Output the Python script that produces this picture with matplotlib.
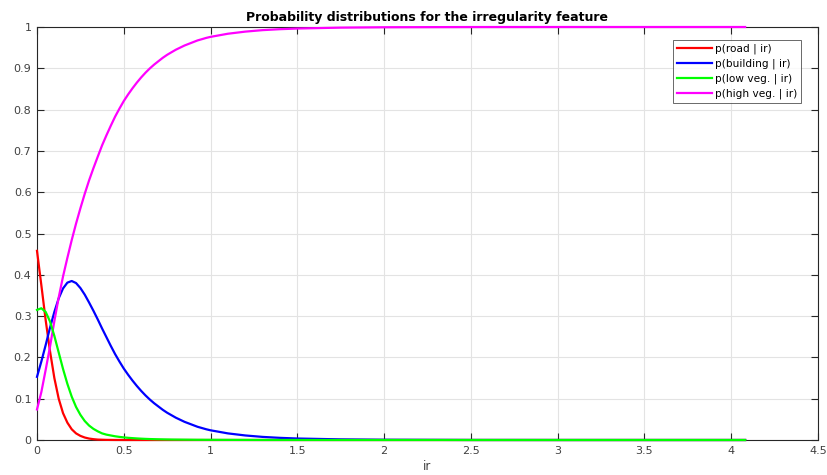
import numpy as np
import matplotlib
matplotlib.use("Agg")
import matplotlib.pyplot as plt

# sample points along the irregularity axis
ir = [0.0, 0.025, 0.05, 0.075, 0.1, 0.125, 0.15, 0.175, 0.2, 0.225, 0.25,
      0.275, 0.3, 0.325, 0.35, 0.375, 0.4, 0.425, 0.45, 0.475, 0.5, 0.525,
      0.55, 0.575, 0.6, 0.625, 0.65, 0.675, 0.7, 0.725, 0.75, 0.775, 0.8,
      0.825, 0.85, 0.875, 0.9, 0.925, 0.95, 0.975, 1.0,
      1.1, 1.2, 1.3, 1.4, 1.5, 1.75, 2.0, 2.5, 3.0, 3.5, 4.08]

p_road = [0.458, 0.375, 0.29, 0.215, 0.15, 0.10, 0.065, 0.042, 0.026, 0.016,
          0.010, 0.006, 0.0035, 0.002, 0.001, 0.0006, 0.0003, 0.0002, 0.0001,
          0.0001, 0, 0, 0, 0, 0, 0, 0, 0, 0, 0, 0, 0, 0, 0, 0, 0, 0, 0, 0, 0, 0,
          0, 0, 0, 0, 0, 0, 0, 0, 0, 0, 0]

p_building = [0.153, 0.19, 0.23, 0.272, 0.31, 0.343, 0.367, 0.381, 0.385,
              0.38, 0.368, 0.352, 0.333, 0.313, 0.292, 0.27, 0.249, 0.228,
              0.208, 0.19, 0.173, 0.158, 0.144, 0.131, 0.119, 0.108, 0.098,
              0.089, 0.081, 0.073, 0.066, 0.06, 0.054, 0.049, 0.044, 0.040,
              0.036, 0.032, 0.029, 0.026, 0.0235,
              0.016, 0.011, 0.0075, 0.0052, 0.0036, 0.0015, 0.0006, 0.0001,
              0.00002, 0, 0]

p_lowveg = [0.315, 0.319, 0.31, 0.287, 0.252, 0.212, 0.172, 0.136, 0.105,
            0.08, 0.061, 0.046, 0.035, 0.027, 0.021, 0.016, 0.013, 0.011,
            0.009, 0.0075, 0.0063, 0.0053, 0.0045, 0.0038, 0.0032, 0.0027,
            0.0023, 0.002, 0.0017, 0.0015, 0.0013, 0.0011, 0.001, 0.0009,
            0.0008, 0.0007, 0.0006, 0.0005, 0.0005, 0.0004, 0.0004,
            0.0003, 0.0002, 0.0001, 0.0001, 0.0001, 0, 0, 0, 0, 0, 0]

p_highveg = [0.074, 0.116, 0.17, 0.226, 0.288, 0.345, 0.396, 0.441, 0.484,
             0.524, 0.561, 0.596, 0.6285, 0.658, 0.686, 0.7134, 0.7377,
             0.7608, 0.7829, 0.8024, 0.8207, 0.8367, 0.8515, 0.8652, 0.8778,
             0.8893, 0.8997, 0.909, 0.9173, 0.9255, 0.9327, 0.9389, 0.945,
             0.9501, 0.9552, 0.9593, 0.9634, 0.9675, 0.9705, 0.9736, 0.9761,
             0.9837, 0.9888, 0.9924, 0.9947, 0.9963, 0.9985, 0.9994, 0.9999,
             1.0, 1.0, 1.0]

labels = ['p(road | ir)', 'p(building | ir)', 'p(low veg. | ir)', 'p(high veg. | ir)']
colors = ['#ff0000', '#0000ff', '#00ff00', '#ff00ff']
# green sits on top where the curves run along zero
zorders = [3, 3.1, 3.3, 3.2]

fig = plt.figure(figsize=(8.27, 4.75), dpi=100)
ax = fig.add_axes([37/827, 35/475, 781/827, 413/475])

for y, lab, c, z in zip([p_road, p_building, p_lowveg, p_highveg], labels, colors, zorders):
    ax.plot(ir, y, color=c, lw=1.6, label=lab, solid_joinstyle='round',
            zorder=z, clip_on=False)

ax.set_xlim(0, 4.5)
ax.set_ylim(0, 1)
ax.set_xticks(np.arange(0, 4.51, 0.5))
ax.set_yticks(np.arange(0, 1.01, 0.1))
ax.set_xticklabels(['0', '0.5', '1', '1.5', '2', '2.5', '3', '3.5', '4', '4.5'])
ax.set_yticklabels(['0', '0.1', '0.2', '0.3', '0.4', '0.5', '0.6', '0.7', '0.8', '0.9', '1'])

edge = '#262626'
for s in ax.spines.values():
    s.set_color(edge)
    s.set_linewidth(0.8)
ax.tick_params(direction='in', length=5, width=0.8, color=edge, labelcolor='#404040',
               labelsize=8, top=True, right=True, pad=4)
ax.grid(True, color='#e3e3e3', lw=0.8)
ax.set_axisbelow(True)

ax.set_title('Probability distributions for the irregularity feature',
             fontsize=9, fontweight='bold', pad=4)
ax.set_xlabel('ir', fontsize=8.5, color='#404040', labelpad=3)

leg = ax.legend(loc='upper right', bbox_to_anchor=(1 - 17/781, 1 - 13/413),
                fontsize=7.6, frameon=True, fancybox=False, handlelength=3.3,
                handletextpad=0.3, borderpad=0.35, labelspacing=0.42,
                borderaxespad=0)
leg.get_frame().set_edgecolor('#262626')
leg.get_frame().set_linewidth(0.6)
leg.set_zorder(5)

fig.savefig('out.png', dpi=100)
